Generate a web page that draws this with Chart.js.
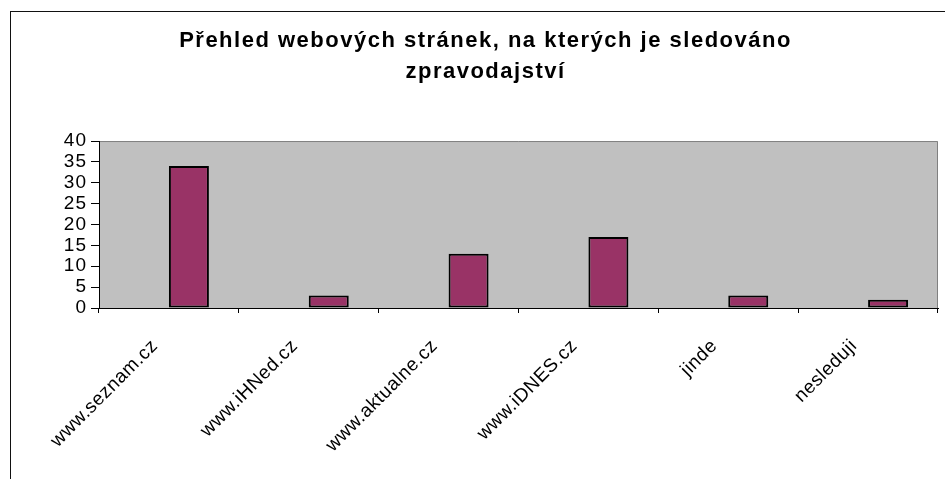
<!DOCTYPE html>
<html>
<head>
<meta charset="utf-8">
<script src="https://cdn.jsdelivr.net/npm/chart.js@4/dist/chart.umd.min.js"></script>
<style>
  html, body { margin: 0; padding: 0; background: #fff; overflow: hidden; }
  #frame { position: absolute; left: 10px; top: 11px; width: 950px; height: 470px; border: 1px solid #111; }
  #frame canvas { display: block; }
</style>
</head>
<body>
<div id="frame"><canvas id="c" width="950" height="470"></canvas></div>
<script>
const titleLines = ['Přehled webových stránek, na kterých je sledováno', 'zpravodajství'];
const categories = ['www.seznam.cz', 'www.iHNed.cz', 'www.aktualne.cz', 'www.iDNES.cz', 'jinde', 'nesleduji'];
const emptySeries = [null, null, null, null, null, null];
const values = [34, 3, 13, 17, 3, 2];
const yTicks = [0, 5, 10, 15, 20, 25, 30, 35, 40];

const FONT = "'Liberation Sans', Arial, sans-serif";

function wrapSpacing(obj, method, spacing, dx) {
  if (!obj || obj['_sp_' + method]) return;
  const orig = obj[method];
  obj[method] = function () {
    const c = this.ctx;
    c.save();
    c.letterSpacing = spacing;
    if (dx) c.translate(dx, 0);
    const r = orig.apply(this, arguments);
    c.restore();
    return r;
  };
  obj['_sp_' + method] = true;
}

const plotBg = {
  id: 'plotBg',
  beforeDraw(chart) {
    const { ctx, chartArea: a } = chart;
    ctx.save();
    ctx.fillStyle = '#C0C0C0';
    ctx.fillRect(a.left, a.top, a.right - a.left, a.bottom - a.top);
    ctx.strokeStyle = '#808080';
    ctx.lineWidth = 1;
    ctx.beginPath();
    ctx.moveTo(a.left, a.top + 0.5);
    ctx.lineTo(a.right - 0.5, a.top + 0.5);
    ctx.lineTo(a.right - 0.5, a.bottom);
    ctx.stroke();
    ctx.restore();
    wrapSpacing(chart.titleBlock, 'draw', '1.5px', 11);
    wrapSpacing(chart.scales.x, 'drawLabels', '0.5px', 0);
    wrapSpacing(chart.scales.y, 'drawLabels', '1px', 0);
  }
};

new Chart(document.getElementById('c'), {
  type: 'bar',
  data: {
    labels: categories,
    datasets: [
      { label: '', data: emptySeries, backgroundColor: '#993366' },
      { label: 'Počet', data: values, backgroundColor: '#993366', borderColor: '#000', borderWidth: 2, borderSkipped: false }
    ]
  },
  options: {
    responsive: false,
    animation: false,
    events: [],
    categoryPercentage: 0.572,
    barPercentage: 1,
    layout: { padding: { left: 0, right: 23, top: 0, bottom: 0 } },
    plugins: {
      legend: { display: false },
      tooltip: { enabled: false },
      title: {
        display: true,
        text: titleLines,
        color: '#000',
        font: { family: FONT, size: 22, weight: 'bold', lineHeight: 1.41 },
        padding: { top: 13, bottom: 54 }
      }
    },
    scales: {
      x: {
        offset: true,
        grid: { display: true, offset: true, drawOnChartArea: false, drawTicks: true, tickLength: 5, color: '#000' },
        border: { display: true, color: '#000', width: 1 },
        ticks: {
          autoSkip: false, minRotation: 45, maxRotation: 45,
          color: '#000', font: { family: FONT, size: 19 },
          padding: 22, labelOffset: -14
        },
        afterFit(scale) { scale.height = 174; }
      },
      y: {
        min: 0, max: 40,
        afterBuildTicks(scale) { scale.ticks = yTicks.map(v => ({ value: v })); },
        grid: { display: true, drawOnChartArea: false, drawTicks: true, tickLength: 8, color: '#000' },
        border: { display: true, color: '#000', width: 1 },
        ticks: { autoSkip: false, color: '#000', font: { family: FONT, size: 19 }, padding: 4 },
        afterFit(scale) { scale.width = 88; }
      }
    }
  },
  plugins: [plotBg]
});
</script>
</body>
</html>
